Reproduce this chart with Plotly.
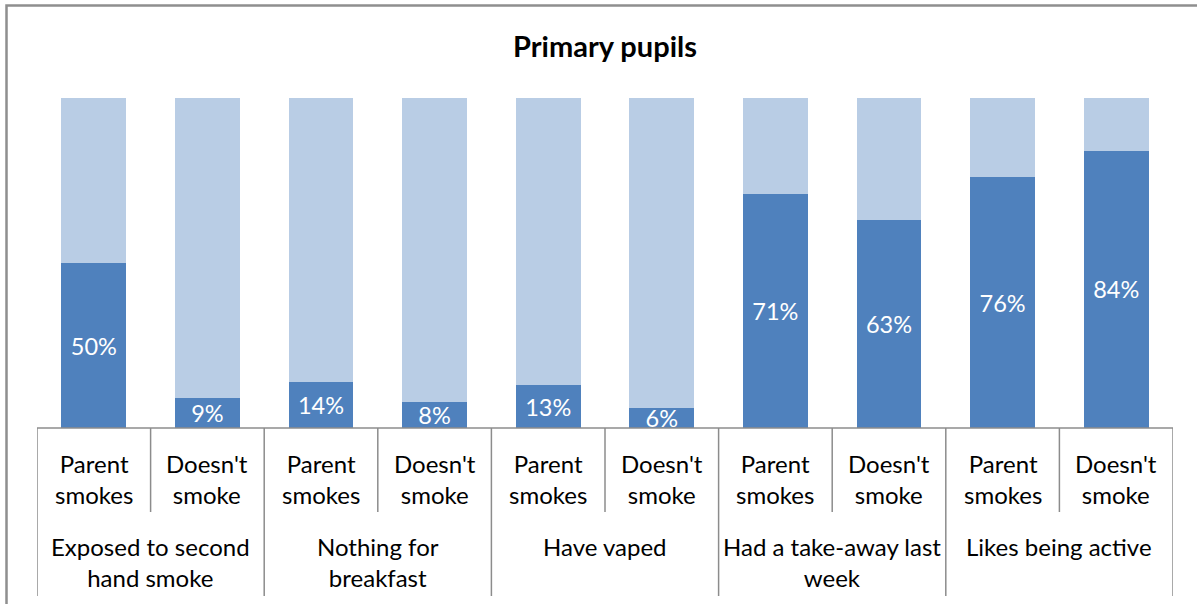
import plotly.graph_objects as go

groups = ["Exposed to second<br>hand smoke", "Nothing for<br>breakfast", "Have vaped",
          "Had a take-away last<br>week", "Likes being active"]
subgroups = ["Parent<br>smokes", "Doesn't<br>smoke"]
values = [50, 9, 14, 8, 13, 6, 71, 63, 76, 84]
rest = [100 - v for v in values]

n = len(values)
xs = list(range(n))
FONT = "Lato, Open Sans, sans-serif"
GREY = "#8c8c8c"

fig = go.Figure()
fig.add_trace(go.Bar(x=xs, y=values, marker=dict(color="#4f81bd", line=dict(width=0)),
                     text=[f"{v}%" for v in values], textposition="inside",
                     insidetextanchor="middle", constraintext="none",
                     textfont=dict(color="white", size=23.5, family=FONT),
                     cliponaxis=False, hoverinfo="skip"))
fig.add_trace(go.Bar(x=xs, y=rest, marker=dict(color="#b9cde5", line=dict(width=0)),
                     hoverinfo="skip"))


# pixel row -> paper y (plot area spans rows 98..428)
def py(px):
    return (428 - px) / 330


shapes = []
for b in range(n + 1):
    x = b - 0.5
    bottom = 596 if b % 2 == 0 else 512
    shapes.append(dict(type="line", xref="x", yref="paper", x0=x, x1=x, y0=0, y1=py(bottom),
                       line=dict(color=GREY, width=1.5)))
shapes.append(dict(type="line", xref="x", yref="paper", x0=-0.5, x1=n - 0.5, y0=0, y1=0,
                   line=dict(color=GREY, width=1.5)))
# chart border
shapes.append(dict(type="rect", xref="paper", yref="paper",
                   x0=(6.5 - 37) / 1136, x1=(1210 - 37) / 1136, y0=py(620), y1=py(5.5),
                   line=dict(color="#8f8f8f", width=2.5)))

annotations = []
for i in range(n):
    annotations.append(dict(x=i, y=py(479), xref="x", yref="paper", text=subgroups[i % 2],
                            showarrow=False, yanchor="middle",
                            font=dict(size=24, color="black", family=FONT)))
for g, name in enumerate(groups):
    annotations.append(dict(x=2 * g + 0.5, y=py(530), xref="x", yref="paper", text=name,
                            showarrow=False, yanchor="top",
                            font=dict(size=24, color="black", family=FONT)))

fig.update_layout(
    barmode="stack", bargap=0.428, showlegend=False,
    width=1197, height=604, margin=dict(l=37, r=24, t=98, b=176),
    paper_bgcolor="white", plot_bgcolor="white",
    title=dict(text="<b>Primary pupils</b>", x=0.5, xref="paper", y=1 - 47 / 604, yanchor="middle",
               font=dict(size=29, color="black", family=FONT)),
    xaxis=dict(range=[-0.5, n - 0.5], showticklabels=False, showgrid=False, zeroline=False,
               showline=False, ticks=""),
    yaxis=dict(range=[0, 100], visible=False),
    shapes=shapes, annotations=annotations,
)

fig.write_html("out.html", config={"displayModeBar": False},
               post_script="document.body.style.margin='0';")
